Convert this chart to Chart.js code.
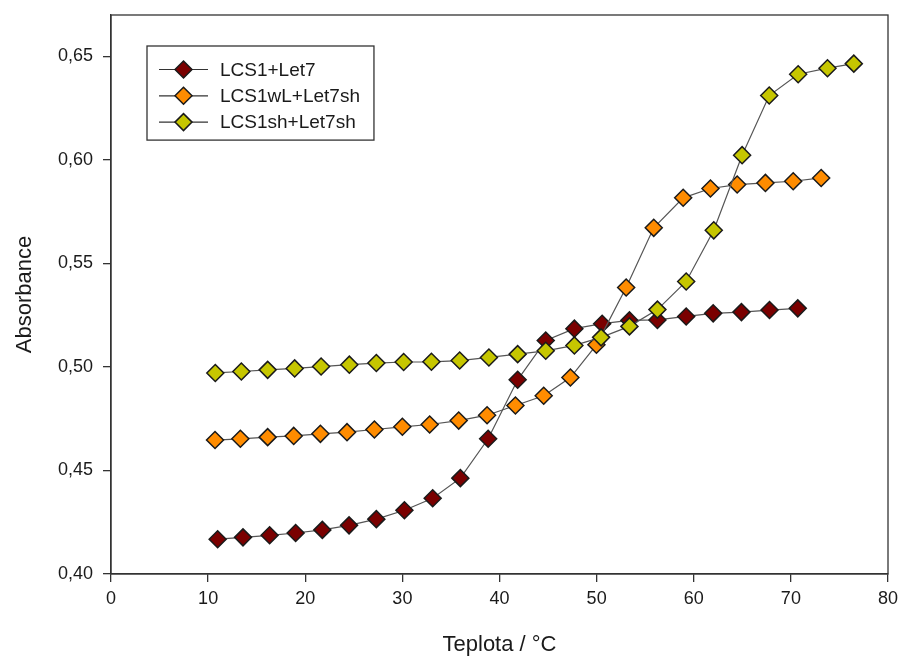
<!DOCTYPE html>
<html>
<head>
<meta charset="utf-8">
<script src="https://cdn.jsdelivr.net/npm/chart.js@4.4.1/dist/chart.umd.min.js"></script>
<style>
  html, body { margin: 0; padding: 0; background: #fff; }
  #wrap { width: 901px; height: 658px; }
</style>
</head>
<body>
<div id="wrap"><canvas id="c" width="901" height="658"></canvas></div>
<script>
// ---- data ----
const seriesLabels = ['LCS1+Let7', 'LCS1wL+Let7sh', 'LCS1sh+Let7sh'];

const redX = [10.98, 13.59, 16.33, 19.01, 21.76, 24.51, 27.32, 30.21, 33.12, 35.97, 38.83,
              41.87, 44.76, 47.71, 50.57, 53.38, 56.26, 59.22, 62.0, 64.91, 67.80, 70.71];
const redY = [0.4168, 0.4177, 0.4187, 0.4198, 0.4213, 0.4235, 0.4265, 0.4308, 0.4366, 0.4463, 0.4653,
              0.4938, 0.5128, 0.5185, 0.5209, 0.5225, 0.5227, 0.5244, 0.5259, 0.5265, 0.5275, 0.5283];

const orangeX = [10.71, 13.32, 16.13, 18.81, 21.56, 24.30, 27.12, 30.0, 32.81, 35.80, 38.72, 41.64,
                 44.55, 47.30, 49.98, 53.04, 55.88, 58.91, 61.72, 64.47, 67.38, 70.24, 73.12];
const orangeY = [0.4647, 0.4653, 0.4661, 0.4667, 0.4677, 0.4685, 0.4698, 0.4711, 0.4722, 0.4741, 0.4767, 0.4814,
                 0.4861, 0.4949, 0.5107, 0.5384, 0.5672, 0.5817, 0.5862, 0.5881, 0.5889, 0.5897, 0.5913];

const greenX = [10.74, 13.42, 16.13, 18.91, 21.63, 24.54, 27.32, 30.13, 32.99, 35.90, 38.91, 41.87,
                44.76, 47.71, 50.46, 53.38, 56.26, 59.22, 62.06, 64.98, 67.77, 70.75, 73.77, 76.48];
const greenY = [0.4971, 0.4978, 0.4986, 0.4993, 0.5002, 0.5011, 0.5019, 0.5024, 0.5025, 0.5031, 0.5046, 0.5062,
                0.5078, 0.5104, 0.5143, 0.5196, 0.5277, 0.5413, 0.5660, 0.6023, 0.6311, 0.6414, 0.6443, 0.6465];

const xTickValues = [0, 10, 20, 30, 40, 50, 60, 70, 80];
const yTickValues = [0.40, 0.45, 0.50, 0.55, 0.60, 0.65];
const yTickLabels = ['0,40', '0,45', '0,50', '0,55', '0,60', '0,65'];
const xTitle = 'Teplota / °C';
const yTitle = 'Absorbance';

// ---- styling ----
const FONT = "'Liberation Sans', Arial, sans-serif";
const fills = ['#7a0000', '#ff8c00', '#c6c600'];
const AX = '#333333';

function toPoints(xs, ys) { return xs.map((x, i) => ({ x: x, y: ys[i] })); }

function mkDataset(label, xs, ys, fill, order) {
  return {
    label: label,
    data: toPoints(xs, ys),
    showLine: true,
    borderColor: '#555555',
    borderWidth: 1.2,
    pointStyle: 'rectRot',
    pointRadius: 8.5,
    pointHoverRadius: 8.5,
    pointBackgroundColor: fill,
    pointBorderColor: '#1a1a1a',
    pointBorderWidth: 1.5,
    order: order
  };
}

const framePlugin = {
  id: 'frame',
  afterDatasetsDraw(chart) {
    const { ctx, chartArea: a } = chart;
    ctx.save();
    ctx.strokeStyle = AX;
    ctx.lineWidth = 1.3;
    ctx.strokeRect(a.left, a.top, a.right - a.left, a.bottom - a.top);
    ctx.restore();
  }
};

const legendPlugin = {
  id: 'boxLegend',
  afterDraw(chart) {
    const ctx = chart.ctx;
    const ds = chart.data.datasets;
    const boxL = 147, boxT = 46;
    const row0 = 69.5, rowH = 26.3;
    const lineL = 159, lineR = 208, mk = 183.5, textL = 220;
    ctx.save();
    ctx.font = '19px ' + FONT;
    let maxW = 0;
    ds.forEach(d => { maxW = Math.max(maxW, ctx.measureText(d.label).width); });
    const boxR = textL + maxW + 14;
    const boxB = row0 + rowH * (ds.length - 1) + 18;
    ctx.fillStyle = '#fff';
    ctx.fillRect(boxL, boxT, boxR - boxL, boxB - boxT);
    ctx.strokeStyle = AX;
    ctx.lineWidth = 1.3;
    ctx.strokeRect(boxL, boxT, boxR - boxL, boxB - boxT);
    ds.forEach((d, i) => {
      const y = row0 + rowH * i;
      ctx.strokeStyle = '#333';
      ctx.lineWidth = 1.2;
      ctx.beginPath(); ctx.moveTo(lineL, y); ctx.lineTo(lineR, y); ctx.stroke();
      const r = 8.5;
      ctx.beginPath();
      ctx.moveTo(mk, y - r); ctx.lineTo(mk + r, y); ctx.lineTo(mk, y + r); ctx.lineTo(mk - r, y);
      ctx.closePath();
      ctx.fillStyle = d.pointBackgroundColor; ctx.fill();
      ctx.strokeStyle = '#1a1a1a'; ctx.lineWidth = 1.5; ctx.stroke();
      ctx.fillStyle = '#1a1a1a';
      ctx.textBaseline = 'middle';
      ctx.textAlign = 'left';
      ctx.fillText(d.label, textL, y + 1);
    });
    ctx.restore();
  }
};

new Chart(document.getElementById('c'), {
  type: 'scatter',
  data: {
    datasets: [
      mkDataset(seriesLabels[0], redX, redY, fills[0], 3),
      mkDataset(seriesLabels[1], orangeX, orangeY, fills[1], 2),
      mkDataset(seriesLabels[2], greenX, greenY, fills[2], 1)
    ]
  },
  options: {
    responsive: false,
    animation: false,
    devicePixelRatio: 1,
    layout: { padding: { top: 15, right: 13, left: 0, bottom: 0 } },
    plugins: { legend: { display: false }, tooltip: { enabled: false } },
    scales: {
      x: {
        type: 'linear', min: 0, max: 80,
        afterBuildTicks: s => { s.ticks = xTickValues.map(v => ({ value: v })); },
        afterFit: s => { s.height = 84; s.paddingLeft = 0; s.paddingRight = 0; },
        ticks: { font: { family: FONT, size: 18 }, color: '#1a1a1a', padding: 6, maxRotation: 0 },
        grid: { drawOnChartArea: false, drawTicks: true, tickLength: 8, color: AX, lineWidth: 1.3 },
        border: { display: true, color: AX, width: 1.3 },
        title: { display: true, text: xTitle, font: { family: FONT, size: 22 }, color: '#1a1a1a', padding: { top: 0, bottom: 0 } }
      },
      y: {
        type: 'linear', min: 0.40, max: 0.67,
        afterBuildTicks: s => { s.ticks = yTickValues.map(v => ({ value: v })); },
        afterFit: s => { s.width = 111; s.paddingTop = 0; s.paddingBottom = 0; },
        ticks: {
          font: { family: FONT, size: 18 }, color: '#1a1a1a', padding: 10,
          callback: (v) => { const i = yTickValues.findIndex(t => Math.abs(t - v) < 1e-9); return i >= 0 ? yTickLabels[i] : ''; }
        },
        grid: { drawOnChartArea: false, drawTicks: true, tickLength: 8, color: AX, lineWidth: 1.3 },
        border: { display: true, color: AX, width: 1.3 },
        title: { display: true, text: yTitle, font: { family: FONT, size: 22 }, color: '#1a1a1a', padding: { top: 12, bottom: 0 } }
      }
    }
  },
  plugins: [framePlugin, legendPlugin]
});
</script>
</body>
</html>
